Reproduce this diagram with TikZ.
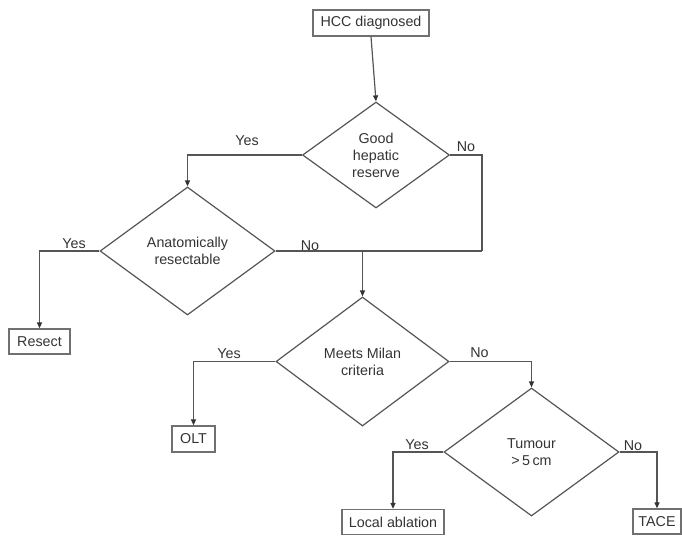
\documentclass[tikz,border=0pt]{standalone}
\usepackage{fontspec}
\setmainfont{Liberation Sans}
\usetikzlibrary{shapes.geometric,arrows.meta}
\definecolor{inkline}{HTML}{555555}
\definecolor{inkbox}{HTML}{707070}
\definecolor{inktext}{HTML}{333333}
\begin{document}
\begin{tikzpicture}[x=1pt,y=-1pt,
  every node/.style={font=\fontsize{14.3}{17}\selectfont,text=inktext},
  box/.style={draw=inkbox,line width=1.3pt,rectangle,inner sep=0pt},
  decision/.style={draw=inkline,line width=1.2pt,diamond,inner sep=0pt,align=center},
  link/.style={draw=inkline,line width=1.2pt},
  arr/.style={link,-{Triangle[width=5pt,length=6pt,color=black!80]}},
  lbl/.style={inner sep=0pt}]
\useasboundingbox (0,0) rectangle (682,535);

% process boxes
\node[box,minimum width=116pt,minimum height=26pt] (hcc) at (371,23) {HCC diagnosed};
\node[box,minimum width=61pt,minimum height=25pt] (resect) at (39.5,341.5) {Resect};
\node[box,minimum width=43pt,minimum height=26pt] (olt) at (193.5,439) {OLT};
\node[box,minimum width=102pt,minimum height=25pt] (local) at (393,522) {Local ablation};
\node[box,minimum width=48pt,minimum height=25pt] (tace) at (657,521.5) {TACE};

% decisions
\node[decision,minimum width=147pt,minimum height=106pt] (good) at (376,155) {Good\\hepatic\\reserve};
\node[decision,minimum width=175pt,minimum height=128pt] (anat) at (187.5,251) {Anatomically\\resectable};
\node[decision,minimum width=173pt,minimum height=129pt] (milan) at (362.5,361.5) {Meets Milan\\criteria};
\node[decision,minimum width=175pt,minimum height=128pt] (tum) at (531.5,452) {Tumour\\{>}\,5\,cm};

% connector helpers
\coordinate (goodno) at (482,155);
\coordinate (merge) at (482,251);
\coordinate (split) at (milan.north |- anat.east);

% connectors
\draw[arr] (hcc.south) -- (good.north);
\draw[arr] (good.west) -| (anat.north);
\draw[link] (good.east) -- (goodno) -- (merge);
\draw[link] (anat.east) -- (merge);
\draw[arr] (split) -- (milan.north);
\draw[arr] (anat.west) -| (resect.north);
\draw[arr] (milan.west) -| (olt.north);
\draw[arr] (milan.east) -| (tum.north);
\draw[arr] (tum.west) -| (local.north);
\draw[arr] (tum.east) -| (tace.north);

% branch labels
\node[lbl] (l1) at (247,141) {Yes};
\node[lbl] (l2) at (466,147) {No};
\node[lbl] (l3) at (74,244) {Yes};
\node[lbl] (l4) at (310,246) {No};
\node[lbl] (l5) at (229,354) {Yes};
\node[lbl] (l6) at (479.5,353) {No};
\node[lbl] (l7) at (417,445) {Yes};
\node[lbl] (l8) at (633,446) {No};
\end{tikzpicture}
\end{document}
